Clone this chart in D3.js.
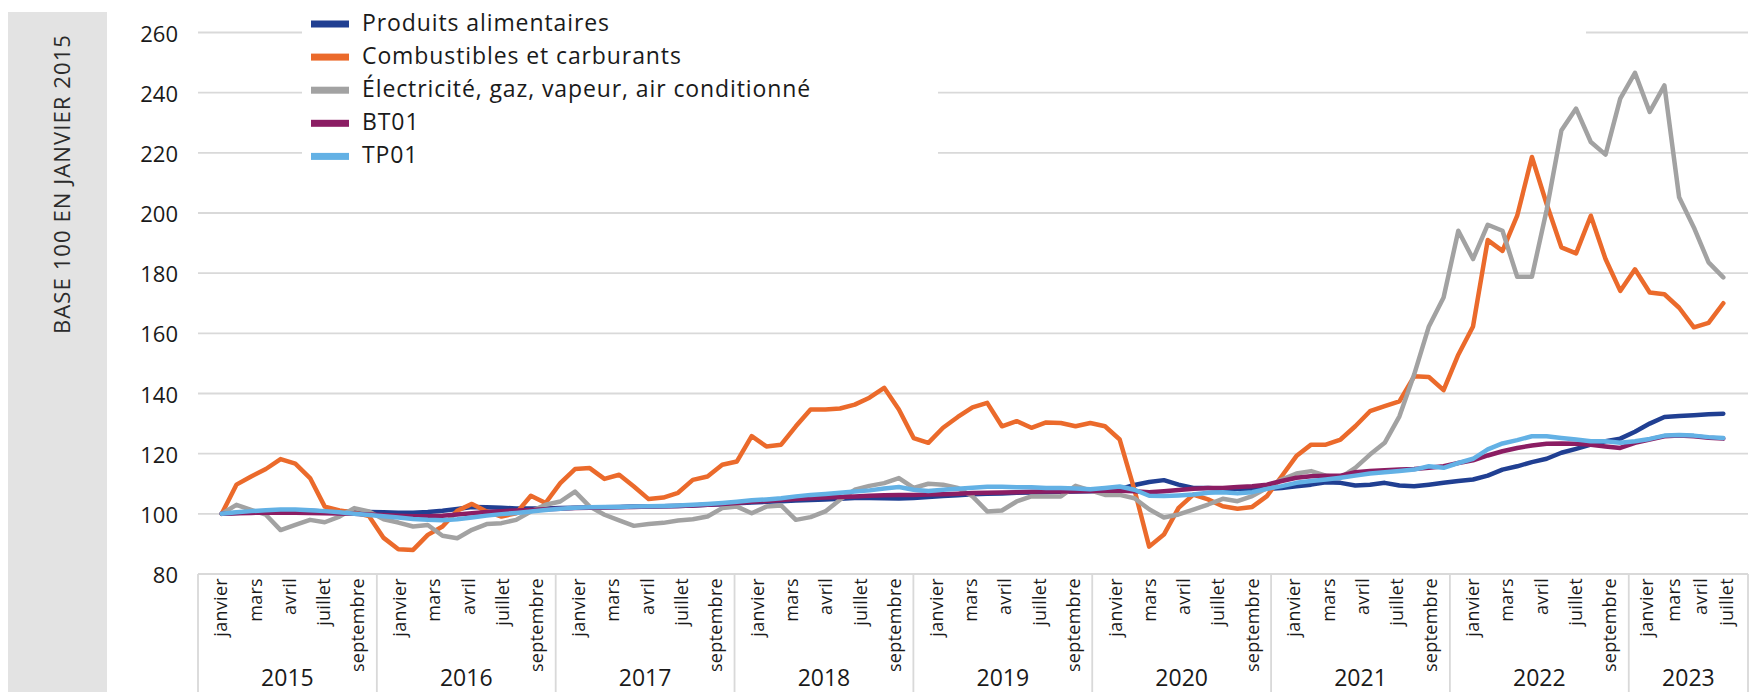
<!DOCTYPE html>
<html>
<head>
<meta charset="utf-8">
<script src="https://cdn.jsdelivr.net/npm/d3@7"></script>
<style>
  body { margin: 0; background: #fff; }
  svg { display: block; font-family: "Open Sans", sans-serif; }
</style>
</head>
<body>
<svg class="chart" width="1751" height="693"></svg>
<script>
// axis structure
let years = ['2015', '2016', '2017', '2018', '2019', '2020', '2021', '2022', '2023'];
let slotsPerYear = [12, 12, 12, 12, 12, 12, 12, 12, 8];
let monthLabels = ['janvier', 'mars', 'avril', 'juillet', 'septembre'];
let monthLabelsLast = ['janvier', 'mars', 'avril', 'juillet'];
let yTicks = [80, 100, 120, 140, 160, 180, 200, 220, 240, 260];

// monthly values, janvier 2015 = 100 (janvier 2015 -> juillet 2023)
let produits = [
  100, 100.3, 100.6, 100.9, 101, 101, 101, 100.8, 100.7, 100.7, 100.6, 100.5,
  100.4, 100.4, 100.6, 101, 101.6, 102.3, 102.2, 102, 101.8, 101.8, 101.8, 101.9,
  102, 102.1, 102.2, 102.3, 102.4, 102.4, 102.5, 102.6, 102.8, 103, 103.2, 103.5,
  103.8, 104, 104.2, 104.4, 104.6, 104.8, 105, 105.3, 105.3, 105.2, 105.1, 105.3,
  105.6, 105.9, 106.2, 106.5, 106.7, 106.8, 107, 107.1, 107.2, 107.3, 107.4, 107.5,
  107.7, 108.2, 109.6, 110.6, 111.2, 109.7, 108.6, 108.6, 108.3, 108.3, 108.1, 108.3,
  108.6, 109.2, 109.7, 110.5, 110.3, 109.4, 109.7, 110.3, 109.4, 109.2, 109.7, 110.3,
  110.9, 111.4, 112.7, 114.7, 115.8, 117.2, 118.3, 120.3, 121.6, 123, 124.1, 125,
  127.3, 130, 132.2, 132.5, 132.8, 133.1, 133.3
];
let combustibles = [
  100, 109.7, 112.4, 114.9, 118.2, 116.7, 111.9, 102.4, 101.1, 100.4, 99.3, 92,
  88.2, 88, 93, 95.8, 101, 103.3, 100.8, 99.1, 100.2, 106, 103.6, 110.2,
  114.9, 115.2, 111.6, 113, 109.1, 104.9, 105.4, 107, 111.3, 112.4, 116.3, 117.4,
  125.8, 122.4, 123, 129.1, 134.7, 134.7, 135, 136.3, 138.6, 141.9, 134.7, 125.2,
  123.6, 128.6, 132.2, 135.4, 136.9, 129.1, 130.8, 128.6, 130.4, 130.2, 129.1, 130.2,
  129.1, 124.7, 108, 89.1, 93.1, 102, 106.4, 104.8, 102.5, 101.7, 102.3, 105.9,
  112.5, 119.2, 123, 123, 124.7, 129.1, 134.1, 135.8, 137.4, 145.7, 145.5, 141.1,
  152.9, 162.3, 191, 187.4, 199.1, 218.6, 203, 188.6, 186.6, 199.1, 184.7, 174.1,
  181.3, 173.6, 173, 168.5, 162, 163.5, 170
];
let electricite = [
  100, 103, 101.3, 99.7, 94.6, 96.3, 98, 97.2, 99.1, 101.9, 100.8, 98.2,
  97.1, 95.8, 96.3, 92.7, 91.9, 94.7, 96.6, 96.9, 98, 100.8, 103, 104.1,
  107.4, 102.4, 99.7, 97.8, 96, 96.6, 97, 97.8, 98.2, 99.1, 101.9, 102.4,
  100.2, 102.4, 102.8, 98, 98.9, 100.8, 104.7, 108, 109.3, 110.2, 111.9, 108.6,
  110, 109.7, 108.6, 105.8, 100.8, 101.1, 104.1, 105.8, 105.8, 105.8, 109.3, 107.8,
  106.3, 106.3, 105.2, 101.5, 98.8, 99.8, 101.4, 103.1, 105, 104.2, 105.9, 108.6,
  111.4, 113.4, 114.2, 112.7, 112, 115.3, 119.7, 123.6, 132.4, 146.3, 162.3, 171.9,
  194.1, 184.7, 196.1, 194.1, 178.8, 178.8, 201, 227.4, 234.7, 223.6, 219.4, 238,
  246.6, 233.6, 242.4, 205.2, 195.2, 183.6, 178.6
];
let bt01 = [
  100, 100.2, 100.3, 100.4, 100.4, 100.4, 100.3, 100.2, 100.1, 100, 99.8, 99.6,
  99.4, 99.2, 99.2, 99.4, 99.8, 100.2, 100.6, 100.9, 101.1, 101.3, 101.5, 101.7,
  101.9, 102, 102.1, 102.2, 102.3, 102.4, 102.5, 102.6, 102.8, 103, 103.3, 103.6,
  104, 104.3, 104.6, 104.9, 105.2, 105.4, 105.6, 105.8, 106, 106.2, 106.3, 106.3,
  106.4, 106.5, 106.7, 106.9, 107, 107.1, 107.2, 107.3, 107.4, 107.4, 107.5, 107.6,
  107.7, 107.7, 107.5, 107.2, 107.5, 107.9, 108.3, 108.6, 108.6, 108.9, 109.2, 109.7,
  110.9, 112, 112.5, 112.7, 112.7, 113.8, 114.2, 114.5, 114.7, 114.9, 115.3, 115.8,
  116.9, 117.8, 119.4, 120.8, 121.9, 122.7, 123.3, 123.4, 123.3, 123, 122.4, 121.9,
  123.6, 124.7, 125.8, 126, 125.8, 125.3, 125
];
let tp01 = [
  100, 100.5, 100.9, 101.2, 101.4, 101.4, 101.2, 100.9, 100.5, 100, 99.6, 99.2,
  98.8, 98.3, 98, 97.9, 98.2, 98.8, 99.4, 99.9, 100.3, 100.8, 101.3, 101.7,
  102, 102.2, 102.3, 102.3, 102.4, 102.5, 102.6, 102.8, 103, 103.3, 103.6, 104,
  104.5, 104.8, 105.2, 105.8, 106.3, 106.6, 107, 107.4, 107.8, 108.4, 108.9, 108,
  107.6, 108, 108.3, 108.7, 109, 109, 108.8, 108.8, 108.6, 108.6, 108.4, 108.2,
  108.6, 109.1, 108, 106, 105.9, 106.1, 106.4, 107, 107.2, 106.8, 107.2, 108.3,
  109.2, 110.3, 110.9, 111.4, 112, 112.7, 113.4, 113.8, 114.2, 114.7, 115.8, 115.3,
  116.9, 118.3, 121.4, 123.4, 124.5, 125.8, 125.8, 125.2, 124.7, 124.1, 124.1, 123.6,
  124.1, 124.9, 126, 126.2, 126, 125.5, 125.2
];

let seriesNames = ['Produits alimentaires', 'Combustibles et carburants',
  'Électricité, gaz, vapeur, air conditionné', 'BT01', 'TP01'];
let seriesValues = [produits, combustibles, electricite, bt01, tp01];
let colors = ['#203f92', '#eb6a2b', '#a2a2a2', '#8b1d63', '#63b1e5'];

var svg = d3.select('.chart');
let gridColor = '#d9d9d9';
let textColor = '#1a1a1a';
let plotLeft = 198, plotRight = 1748;
let axisY = 574;

let totalSlots = d3.sum(slotsPerYear);
// category slots of the axis
var xCat = d3.scaleLinear().domain([0, totalSlots]).range([plotLeft, plotRight]);
// months of the series
var xMonth = d3.scaleLinear().domain([0, produits.length - 1]).range([221.7, 1723.3]);
var yScale = d3.scaleLinear().domain([80, 260]).range([axisY, 32.5]);

// left grey band with the unit
svg.append('rect')
   .attr('x', 8).attr('y', 12)
   .attr('width', 99).attr('height', 680)
   .attr('fill', '#e3e3e3');

svg.append('text')
   .attr('transform', 'translate(61, 34) rotate(-90)')
   .attr('text-anchor', 'end')
   .attr('dominant-baseline', 'central')
   .attr('font-size', 22)
   .attr('letter-spacing', 1.1)
   .attr('fill', '#2b2b2b')
   .text('BASE 100 EN JANVIER 2015');

// horizontal grid
svg.append('g').selectAll('line')
   .data(yTicks)
   .join('line')
   .attr('x1', plotLeft).attr('x2', plotRight)
   .attr('y1', d => yScale(d)).attr('y2', d => yScale(d))
   .attr('stroke', gridColor)
   .attr('stroke-width', 1.8);

svg.append('g').selectAll('text')
   .data(yTicks)
   .join('text')
   .attr('x', 178)
   .attr('y', d => yScale(d))
   .attr('text-anchor', 'end')
   .attr('dominant-baseline', 'central')
   .attr('font-size', 22)
   .attr('fill', textColor)
   .text(d => d);

// white boxes behind the legend
svg.append('rect')
   .attr('x', 302).attr('y', 8)
   .attr('width', 636).attr('height', 165)
   .attr('fill', '#fff');
svg.append('rect')
   .attr('x', 938).attr('y', 20)
   .attr('width', 648).attr('height', 25)
   .attr('fill', '#fff');

// year separators below the axis
let yearStarts = [0];
slotsPerYear.forEach((n, i) => yearStarts.push(yearStarts[i] + n));

svg.append('g').selectAll('line')
   .data(yearStarts)
   .join('line')
   .attr('x1', d => xCat(d)).attr('x2', d => xCat(d))
   .attr('y1', axisY).attr('y2', 692)
   .attr('stroke', gridColor)
   .attr('stroke-width', 1.8);

years.forEach((year, i) => {
	let start = yearStarts[i];
	let n = slotsPerYear[i];
	let labels = n == 12 ? monthLabels : monthLabelsLast;
	let step = (n - 1.5 + n / 12) / labels.length;

	labels.forEach((m, j) => {
		let cx = xCat(start + step * 0.65 + j * step);
		svg.append('text')
		   .attr('transform', `translate(${cx}, 578) rotate(-90)`)
		   .attr('text-anchor', 'end')
		   .attr('dominant-baseline', 'central')
		   .attr('font-size', 18)
		   .attr('letter-spacing', 0.3)
		   .attr('fill', textColor)
		   .text(m);
	});

	svg.append('text')
	   .attr('x', xCat(start + n / 2))
	   .attr('y', 677)
	   .attr('text-anchor', 'middle')
	   .attr('dominant-baseline', 'central')
	   .attr('font-size', 23)
	   .attr('fill', textColor)
	   .text(year);
});

// series
let line = d3.line()
   .x((d, i) => xMonth(i))
   .y(d => yScale(d));

for (let i = 0; i < seriesValues.length; i++) {
	svg.append('path')
	   .datum(seriesValues[i])
	   .attr('fill', 'none')
	   .attr('stroke', colors[i])
	   .attr('stroke-width', 4.5)
	   .attr('stroke-linejoin', 'round')
	   .attr('stroke-linecap', 'round')
	   .attr('d', line);
}

// legend
for (let i = 0; i < seriesNames.length; i++) {
	let cy = 24 + i * 33.1;
	svg.append('rect')
	   .attr('x', 311).attr('y', cy - 3.5)
	   .attr('width', 38).attr('height', 7)
	   .attr('fill', colors[i]);
	svg.append('text')
	   .attr('x', 362)
	   .attr('y', cy - 2)
	   .attr('dominant-baseline', 'central')
	   .attr('font-size', 23)
	   .attr('letter-spacing', 0.9)
	   .attr('fill', textColor)
	   .text(seriesNames[i]);
}
</script>
</body>
</html>
